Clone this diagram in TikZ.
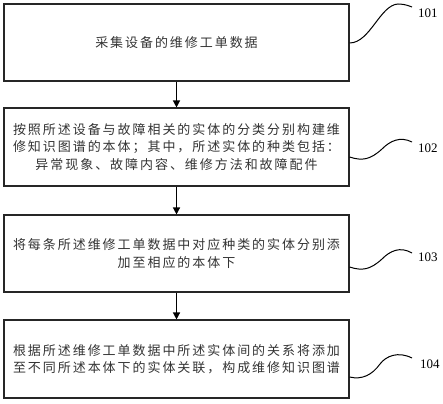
\documentclass[tikz,border=0pt]{standalone}
\usepackage{fontspec}
\setmainfont{Liberation Serif}
\newfontfamily\cjk[LetterSpace=15]{Noto Sans CJK SC}
\usetikzlibrary{arrows.meta}
\definecolor{txt}{HTML}{333333}
\tikzset{
  stepbox/.style={draw=black!85, line width=1.1pt, minimum width=345pt, inner sep=0pt, text=txt, font=\cjk\fontsize{13}{17.5}\selectfont, align=center},
  flow/.style={-{Triangle[length=7pt,width=7pt]}, line width=1.3pt, black},
  leader/.style={line width=1pt, black},
  lbl/.style={font=\fontsize{13}{13}\selectfont, anchor=west, inner sep=0pt}
}
\begin{document}
\begin{tikzpicture}[x=1pt,y=-1pt]
\useasboundingbox (0,0) rectangle (443,403);
\node[stepbox, minimum height=77pt] (s1) at (176.5,42.5) {采集设备的维修工单数据};
\node[stepbox, minimum height=78pt] (s2) at (176.5,147) {按照所述设备与故障相关的实体的分类分别构建维\\修知识图谱的本体；其中，所述实体的种类包括：\\异常现象、故障内容、维修方法和故障配件};
\node[stepbox, minimum height=77pt] (s3) at (176.5,253.5) {将每条所述维修工单数据中对应种类的实体分别添\\加至相应的本体下};
\node[stepbox, minimum height=78pt] (s4) at (176.5,359) {根据所述维修工单数据中所述实体间的关系将添加\\至不同所述本体下的实体关联，构成维修知识图谱};
\draw[flow] (s1) -- (s2);
\draw[flow] (s2) -- (s3);
\draw[flow] (s3) -- (s4);
\node[lbl] (l1) at (418,13) {101};
\node[lbl] (l2) at (418,148) {102};
\node[lbl] (l3) at (418,257) {103};
\node[lbl] (l4) at (420,364) {104};
\coordinate (c1) at (s1.east |- 0,43);
\coordinate (c2) at (s2.east |- 0,157);
\coordinate (c3) at (s3.east |- 0,267);
\coordinate (c4) at (s4.east |- 0,377);
\draw[leader] (c1) .. controls (370,43) and (380,5) .. (398,4) .. controls (405,4) and (409,6) .. (412,7);
\draw[leader] (c2) .. controls (362,161) and (370,160) .. (382,149) .. controls (390,141) and (400,136) .. (412,142);
\draw[leader] (c3) .. controls (362,271) and (370,270) .. (382,259) .. controls (390,251) and (400,246) .. (412,253);
\draw[leader] (c4) .. controls (362,380) and (372,375) .. (380,364) .. controls (386,356) and (398,351) .. (412,358);
\end{tikzpicture}
\end{document}
